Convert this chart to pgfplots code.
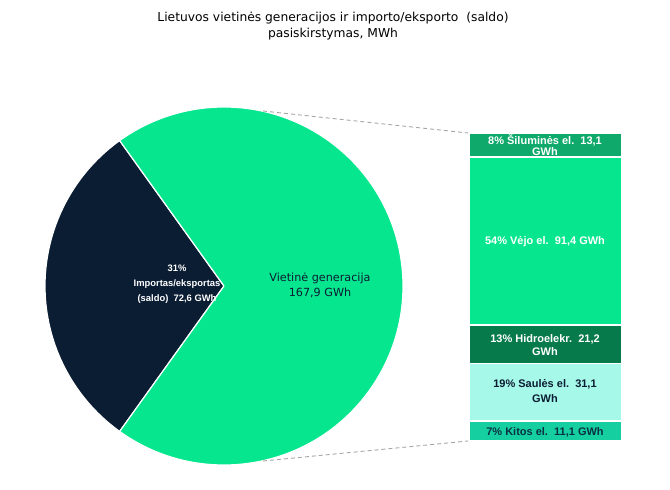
\documentclass[border=0pt]{standalone}
\usepackage{pgfplots}
\pgfplotsset{compat=1.18}
\usepackage{fontspec}
\setmainfont{DejaVu Sans}
\newfontfamily\lib{Liberation Sans}
\definecolor{navy}{HTML}{0B1D33}
\definecolor{vgreen}{HTML}{06E68E}
\definecolor{silg}{HTML}{10A96C}
\definecolor{hidro}{HTML}{077A4C}
\definecolor{saul}{HTML}{A6F8E8}
\definecolor{kitos}{HTML}{16CFA0}
\definecolor{dashc}{HTML}{A6A6A6}
\begin{document}
\begin{tikzpicture}
% pie values (GWh)
\def\imp{72.6}
\def\gen{167.9}
\pgfmathsetmacro{\half}{180*\imp/(\imp+\gen)}
\pgfmathsetmacro{\aA}{180-\half}
\pgfmathsetmacro{\aB}{180+\half}
\pgfmathsetmacro{\aC}{540-\half}
% bar of pie: breakdown of local generation (GWh)
\begin{axis}[at={(469pt,31pt)}, anchor=south west,
  width=153pt, height=308pt, scale only axis,
  xmin=-0.5, xmax=0.5, ymin=0, ymax=167.9,
  axis lines=none, ticks=none,
  ybar stacked, bar width=153pt,
  every axis plot/.append style={draw=white, line width=1.8pt}]
  \addplot[fill=kitos] coordinates {(0,11.1)};
  \addplot[fill=saul] coordinates {(0,31.1)};
  \addplot[fill=hidro] coordinates {(0,21.2)};
  \addplot[fill=vgreen] coordinates {(0,91.4)};
  \addplot[fill=silg] coordinates {(0,13.1)};
\end{axis}
\begin{axis}[name=canvas, at={(0,0)}, anchor=south west,
  width=670pt, height=472pt, scale only axis,
  xmin=0, xmax=670, ymin=0, ymax=472,
  axis lines=none, ticks=none, clip=false]
  \path (axis cs:0,0) rectangle (axis cs:670,472);
  % pie slices
  \filldraw[fill=navy, draw=white, line width=1.2pt, line join=round]
    (axis cs:224,186) -- ++(\aA:179pt) arc[start angle=\aA, end angle=\aB, radius=179pt] -- cycle;
  \filldraw[fill=vgreen, draw=white, line width=1.2pt, line join=round]
    (axis cs:224,186) -- ++(\aB:179pt) arc[start angle=\aB, end angle=\aC, radius=179pt] -- cycle;
  % series lines
  \draw[dashc, line width=0.9pt, dash pattern=on 4pt off 3pt] (axis cs:263,361) -- (axis cs:468,339);
  \draw[dashc, line width=0.9pt, dash pattern=on 4pt off 3pt] (axis cs:263,11) -- (axis cs:468,31);
  % title
  \node[font=\fontsize{12.3}{16.5}\selectfont, text=black, align=center] at (axis cs:333,446)
    {Lietuvos vietinės generacijos ir importo/eksporto\ \ (saldo)\\pasiskirstymas, MWh};
  % pie labels
  \node[font=\lib\bfseries\fontsize{9.4}{15}\selectfont, text=white, align=center] at (axis cs:177,188)
    {31\%\\Importas/eksportas\\(saldo)\ \ 72,6 GWh};
  \node[font=\fontsize{11.2}{15}\selectfont, text=navy, align=center] at (axis cs:320,187)
    {Vietinė generacija\\167,9 GWh};
  % bar labels
  \node[font=\lib\bfseries\fontsize{11}{11.5}\selectfont, text=white, align=center] at (axis cs:545,327)
    {8\% Šiluminės el.\ \ 13,1\\GWh};
  \node[font=\lib\bfseries\fontsize{11}{11.5}\selectfont, text=white, align=center] at (axis cs:545,230)
    {54\% Vėjo el.\ \ 91,4 GWh};
  \node[font=\lib\bfseries\fontsize{11}{13}\selectfont, text=white, align=center] at (axis cs:545,127)
    {13\% Hidroelekr.\ \ 21,2\\GWh};
  \node[font=\lib\bfseries\fontsize{11}{15}\selectfont, text=navy, align=center] at (axis cs:545,81)
    {19\% Saulės el.\ \ 31,1\\GWh};
  \node[font=\lib\bfseries\fontsize{11}{12}\selectfont, text=navy!80!teal, align=center] at (axis cs:545,40)
    {7\% Kitos el.\ \ 11,1 GWh};
\end{axis}
\end{tikzpicture}
\end{document}
